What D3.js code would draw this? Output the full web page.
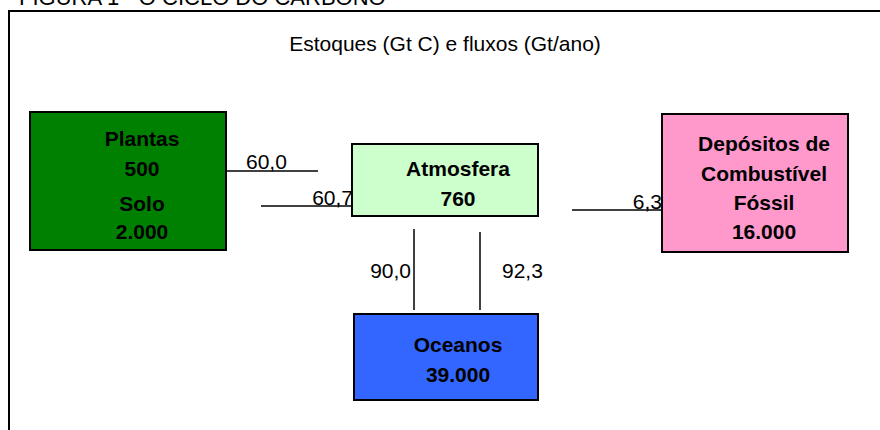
<!DOCTYPE html>
<html>

<head>
   <meta charset="utf-8">
   <title>Figura 1 - O ciclo do carbono</title>
   <script src="https://d3js.org/d3.v7.min.js"></script>
   <style>
      body { margin: 0; background: #fff; }
      svg { display: block; font-family: "Liberation Sans", Arial, sans-serif; }
   </style>
</head>

<body>
   <script>
      // dados: estoques (Gt C) e fluxos (Gt/ano)
      var figureTitle = "FIGURA 1 - O CICLO DO CARBONO"
      var subtitle = "Estoques (Gt C) e fluxos (Gt/ano)"
      var stockIds = ["plantas", "atmosfera", "fossil", "oceanos"]
      var stockNames = [["Plantas", null, "Solo", null], ["Atmosfera", null], ["Depósitos de", "Combustível", "Fóssil", null], ["Oceanos", null]]
      var stockValues = [[500, 2000], [760], [16000], [39000]]
      var flowIds = ["plantasAtm", "atmPlantas", "fossilAtm", "atmOceano", "oceanoAtm"]
      var flowValues = [60.0, 60.7, 6.3, 90.0, 92.3]

      // layout (posicoes em px)
      var boxLayout = {
         plantas:   { x: 30,  y: 112, w: 196, h: 138, cx: 142, rows: [146, 176, 211, 239], fill: "#008000" },
         atmosfera: { x: 352, y: 144, w: 186, h: 72,  cx: 458, rows: [176, 206], fill: "#ccffcc" },
         fossil:    { x: 662, y: 114, w: 186, h: 138, cx: 764, rows: [151, 181, 210, 239], fill: "#ff99cc" },
         oceanos:   { x: 354, y: 314, w: 184, h: 86,  cx: 458, rows: [352, 382], fill: "#3366ff" }
      }
      var flowLayout = {
         plantasAtm: { x1: 226, y1: 171, x2: 318, y2: 171, lx: 246, ly: 169, anchor: "start" },
         atmPlantas: { x1: 261, y1: 206, x2: 352, y2: 206, lx: 353, ly: 205, anchor: "end" },
         fossilAtm:  { x1: 572, y1: 210, x2: 662, y2: 210, lx: 662, ly: 209, anchor: "end" },
         atmOceano:  { x1: 414, y1: 229, x2: 414, y2: 310, lx: 411, ly: 278, anchor: "end" },
         oceanoAtm:  { x1: 480, y1: 232, x2: 480, y2: 310, lx: 502, ly: 278, anchor: "start" }
      }

      var pt = d3.formatLocale({ decimal: ",", thousands: ".", grouping: [3], currency: ["R$", ""] })
      var fmtStock = pt.format(",d")
      var fmtFlow = pt.format(".1f")

      var stocks = stockIds.map((id, i) => {
         var vals = stockValues[i].slice()
         var lines = stockNames[i].map(n => n === null ? fmtStock(vals.shift()) : n)
         return { id, lines }
      })
      var flows = flowIds.map((id, i) => ({ id, v: flowValues[i] }))

      var svg = d3.select("body").append("svg").attr("width", 880).attr("height", 430)

      svg.append("text").attr("x", 19).attr("y", 5).attr("font-size", 22).attr("fill", "#000").text(figureTitle)

      svg.append("rect").attr("x", 9).attr("y", 11).attr("width", 1000).attr("height", 1000)
         .attr("fill", "none").attr("stroke", "#000").attr("stroke-width", 2)

      svg.append("text").attr("x", 445).attr("y", 51).attr("text-anchor", "middle")
         .attr("font-size", 21).text(subtitle)

      var flowG = svg.selectAll("g.flow").data(flows).enter().append("g").attr("class", "flow")
      flowG.append("line")
         .attr("x1", d => flowLayout[d.id].x1).attr("y1", d => flowLayout[d.id].y1)
         .attr("x2", d => flowLayout[d.id].x2).attr("y2", d => flowLayout[d.id].y2)
         .attr("stroke", "#000").attr("stroke-width", 1.5)

      var boxG = svg.selectAll("g.stock").data(stocks).enter().append("g").attr("class", "stock")
      boxG.append("rect")
         .attr("x", d => boxLayout[d.id].x).attr("y", d => boxLayout[d.id].y)
         .attr("width", d => boxLayout[d.id].w).attr("height", d => boxLayout[d.id].h)
         .attr("fill", d => boxLayout[d.id].fill).attr("stroke", "#000").attr("stroke-width", 2)
      boxG.selectAll("text").data(d => d.lines.map((t, j) => ({ t, cx: boxLayout[d.id].cx, y: boxLayout[d.id].rows[j] })))
         .enter().append("text")
         .attr("x", d => d.cx).attr("y", d => d.y).attr("text-anchor", "middle")
         .attr("font-size", 21).attr("font-weight", "bold").text(d => d.t)

      // rotulos dos fluxos por cima das caixas
      flowG.append("text")
         .attr("x", d => flowLayout[d.id].lx).attr("y", d => flowLayout[d.id].ly)
         .attr("text-anchor", d => flowLayout[d.id].anchor)
         .attr("font-size", 21).text(d => fmtFlow(d.v))
   </script>
</body>

</html>
